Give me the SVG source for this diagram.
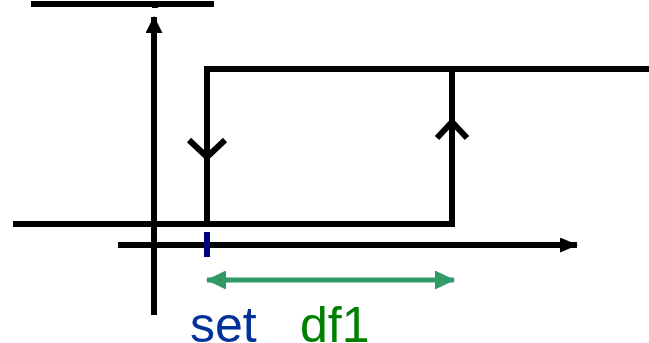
<svg xmlns="http://www.w3.org/2000/svg" width="649" height="343" viewBox="0 0 649 343">
<defs>
<style>
.k{stroke:#000;stroke-width:6;fill:none;stroke-linecap:butt}
.t{font-family:"Liberation Sans",Arial,sans-serif;font-size:50px}
</style>
<marker id="ah" viewBox="0 0 17 17" refX="16" refY="8.5" markerWidth="17" markerHeight="17" markerUnits="userSpaceOnUse" orient="auto"><path d="M0,0L17,8.5L0,17z" fill="#000"/></marker>
<marker id="ax" viewBox="0 0 18 15" refX="17" refY="7.5" markerWidth="18" markerHeight="15" markerUnits="userSpaceOnUse" orient="auto"><path d="M0,0L18,7.5L0,15z" fill="#000"/></marker>
<marker id="gh" viewBox="0 0 20 19" refX="19" refY="9.5" markerWidth="20" markerHeight="19" markerUnits="userSpaceOnUse" orient="auto-start-reverse"><path d="M0,0L20,9.5L0,19z" fill="#339966"/></marker>
</defs>
<g id="axes">
<line class="k" x1="31" y1="4" x2="214" y2="4" stroke-width="5"/>
<line class="k" x1="155" y1="4" x2="155" y2="8" stroke-width="3"/>
<line class="k" x1="154" y1="315" x2="154" y2="17" marker-end="url(#ah)"/>
<line class="k" x1="118" y1="245" x2="577" y2="245" marker-end="url(#ax)"/>
</g>
<g id="loop">
<polyline class="k" points="13,224 452,224 452,69"/>
<polyline class="k" points="207,225 207,69 649,69"/>
<polyline class="k" points="189,140 207,157 225,140"/>
<polyline class="k" points="437,138 452,122 467,138"/>
</g>
<g id="marks">
<line x1="207" y1="232" x2="207" y2="257" stroke="#000080" stroke-width="6"/>
<line x1="207" y1="280" x2="454" y2="280" stroke="#339966" stroke-width="5" marker-start="url(#gh)" marker-end="url(#gh)"/>
</g>
<g id="labels">
<text class="t" x="190" y="342" fill="#003399">set</text>
<text class="t" x="300" y="342" fill="#008000">df1</text>
</g>
</svg>
